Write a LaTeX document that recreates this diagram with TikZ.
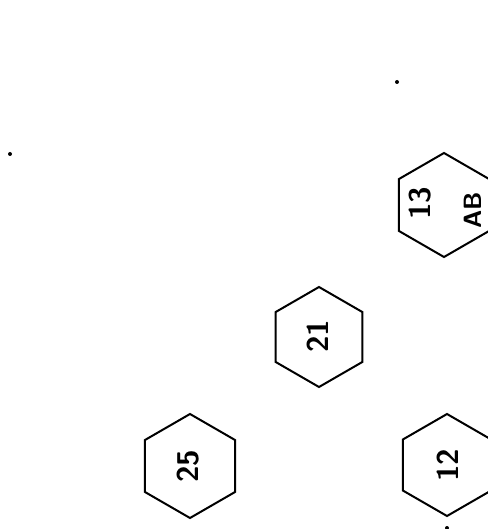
\documentclass[tikz,border=0pt]{standalone}
\usetikzlibrary{shapes.geometric}
\begin{document}
\begin{tikzpicture}[x=1pt,y=-1pt,
  hexbox/.style={draw, line width=2pt, regular polygon, regular polygon sides=6,
    rotate=90, inner sep=0pt},
  hand/.style={rotate=90, inner sep=0pt, font=\sffamily\bfseries\fontsize{30}{30}\selectfont},
  handsmall/.style={rotate=90, inner sep=0pt, font=\sffamily\bfseries\fontsize{25}{25}\selectfont},
  speck/.style={fill=black, draw=none, circle, inner sep=0pt, minimum size=4pt}]
\useasboundingbox (0,0) rectangle (487,529);
% hexagons
\node[hexbox, minimum size=104pt] (h13) at (444,205) {};
\node[hexbox, minimum size=100pt] (h21) at (319,337) {};
\node[hexbox, minimum size=104pt] (h25) at (190,466) {};
\node[hexbox, minimum size=102pt] (h12) at (447,465) {};
% labels
\node[hand] (t13) at (420,203) {13};
\node[handsmall] (tab) at (473,210) {AB};
\node[hand] (t21) at (318,336) {21};
\node[hand] (t25) at (188,466) {25};
\node[hand] (t12) at (448,465) {12};
% specks
\node[speck] (d1) at (10,154) {};
\node[speck] (d2) at (397,82) {};
\node[speck] (d3) at (447,528) {};
\end{tikzpicture}
\end{document}
